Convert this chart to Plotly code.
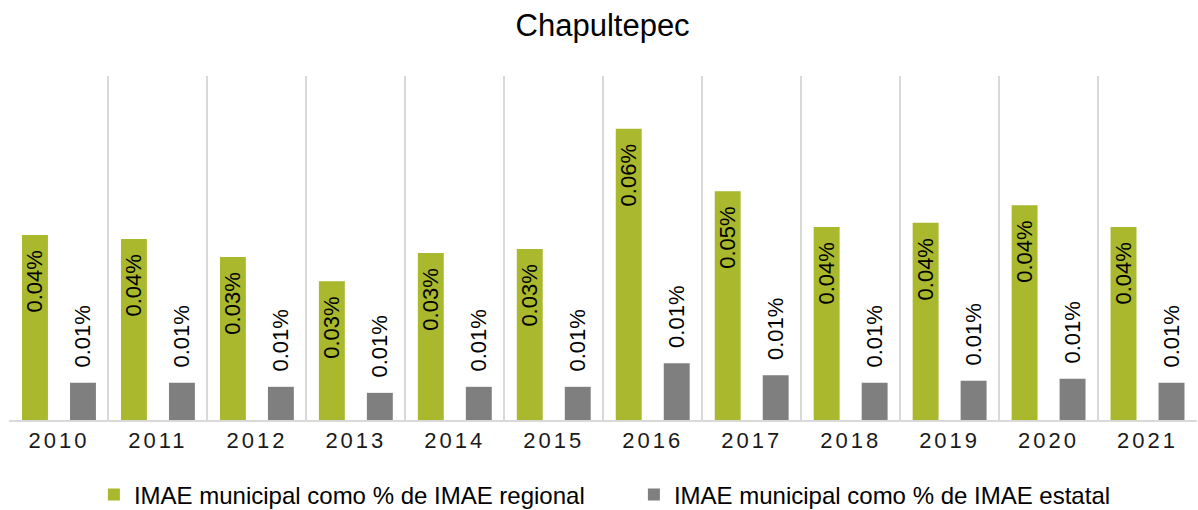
import plotly.graph_objects as go

years = ["2010", "2011", "2012", "2013", "2014", "2015", "2016", "2017", "2018", "2019", "2020", "2021"]
regional = [0.0368, 0.0360, 0.0324, 0.0276, 0.0332, 0.0340, 0.0579, 0.0455, 0.0384, 0.0392, 0.0427, 0.0384]
estatal = [0.0074, 0.0074, 0.0066, 0.0054, 0.0066, 0.0066, 0.0113, 0.0089, 0.0074, 0.0078, 0.0082, 0.0074]

name_regional = "IMAE municipal como % de IMAE regional"
name_estatal = "IMAE municipal como % de IMAE estatal"

FONT = "Liberation Sans, Arial, sans-serif"

tick_text = ['<span style="letter-spacing:3px">%s</span>' % y for y in years]

fig = go.Figure()
fig.add_trace(go.Bar(
    x=years, y=regional, name=name_regional,
    marker=dict(color="#A9B82C", line=dict(width=0)),
    texttemplate="%{y:.2f}%  ", textposition="inside", insidetextanchor="end",
    textangle=-90, textfont=dict(family=FONT, size=22, color="#000000"),
    constraintext="none", cliponaxis=False,
))
fig.add_trace(go.Bar(
    x=years, y=estatal, name=name_estatal,
    marker=dict(color="#7F7F7F", line=dict(width=0)),
    texttemplate="  %{y:.2f}%", textposition="outside",
    textangle=-90, textfont=dict(family=FONT, size=22, color="#000000"),
    constraintext="none", cliponaxis=False,
))

fig.update_layout(
    width=1198, height=510,
    margin=dict(l=9, r=1, t=76, b=90),
    paper_bgcolor="white", plot_bgcolor="white",
    barmode="group", bargap=0.03, bargroupgap=0.46,
    uniformtext=dict(minsize=22, mode="show"),
    font=dict(family=FONT, color="#000000"),
    title=dict(text="Chapultepec", x=0.503, xanchor="center", y=1 - 25 / 510,
               yanchor="middle", yref="container",
               font=dict(family=FONT, size=31, color="#000000")),
    xaxis=dict(
        type="category", tickson="boundaries", showgrid=True,
        gridcolor="#D9D9D9", gridwidth=2,
        showline=True, linecolor="#D9D9D9", linewidth=2,
        tickmode="array", tickvals=years, ticktext=tick_text,
        ticks="", tickfont=dict(family=FONT, size=22, color="#1a1a1a"),
        range=[-0.505, 11.5],
    ),
    yaxis=dict(range=[0, 0.0684], visible=False, showgrid=False, zeroline=False),
    legend=dict(orientation="h", x=0.526, xanchor="center",
                yref="container", y=1 - 495 / 510, yanchor="middle",
                font=dict(family=FONT, size=24, color="#000000"),
                itemwidth=30, traceorder="normal", entrywidth=495),
    showlegend=True,
)

fig.write_html("out.html", config={"displayModeBar": False},
               post_script="document.body.style.margin='0px';document.body.style.overflow='hidden';")
